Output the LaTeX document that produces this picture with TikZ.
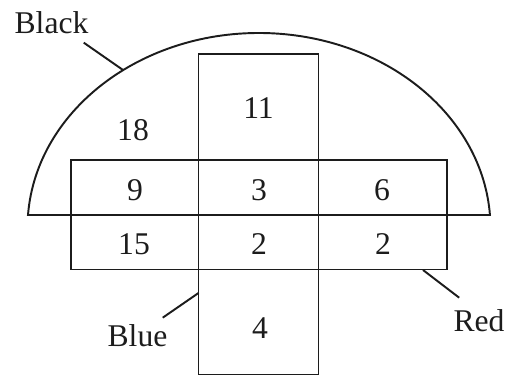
\documentclass[tikz,border=0pt]{standalone}
\usepackage{fontspec}
\setmainfont{Liberation Serif}
\usetikzlibrary{positioning}
\definecolor{ink}{HTML}{1C1C1C}
\tikzset{
  outline/.style={
    draw=ink,
    line width=1.1pt
  },
  leader/.style={
    draw=ink,
    line width=1.1pt
  },
  count/.style={
    font=\fontsize{18}{20}\selectfont,
    text=ink,
    inner sep=0pt
  },
  tag/.style={
    font=\fontsize{18}{20}\selectfont,
    text=ink,
    inner sep=0pt,
    anchor=base
  }
}

\begin{document}
\begin{tikzpicture}[x=0.02cm, y=-0.02cm]
  \useasboundingbox (0,0) rectangle (511,377);
  % Black half dome.
  \draw[outline] (28,215)
    arc[start angle=183.82, end angle=356.18, x radius=231.5, y radius=195]
    -- cycle;
  % Red band and blue column.
  \draw[outline] (71,160) rectangle (447,269.5);
  \draw[outline] (198.5,54) rectangle (318.5,374.5);

  % Counts.
  \node[count] (n18) at (133,130) {18};
  \node[count] (n11) at (258.5,108.5) {11};
  \node[count] (n9) at (135,190) {9};
  \node[count] (n3) at (259,190) {3};
  \node[count] (n6) at (382,190) {6};
  \node[count] (n15) at (134,244.5) {15};
  \node[count] (n2a) at (259,244.5) {2};
  \node[count] (n2b) at (383,244.5) {2};
  \node[count] (n4) at (260,328) {4};

  % Set names.
  \node[tag] (black) at (51.5,34) {Black};
  \node[tag] (blue) at (137.5,347) {Blue};
  \node[tag] (red) at (479,332) {Red};
  \coordinate (blackend) at (123,70);
  \coordinate (blueend) at (198.5,293);
  \coordinate (redend) at (423,270);
  \draw[leader] ([shift={(-5,8)}]black.south east) -- (blackend);
  \draw[leader] ([shift={(-5,-7)}]blue.north east) -- (blueend);
  \draw[leader] ([shift={(6,-12)}]red.north west) -- (redend);
\end{tikzpicture}
\end{document}
